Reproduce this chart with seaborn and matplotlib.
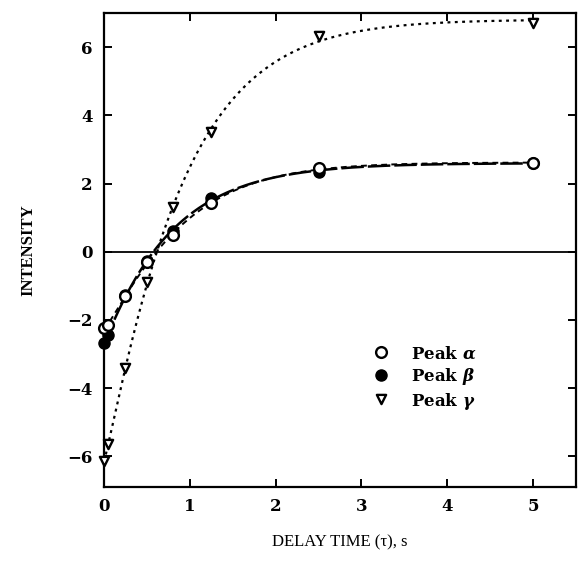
import numpy as np
import pandas as pd
import matplotlib
matplotlib.use("Agg")
import matplotlib.pyplot as plt
import seaborn as sns

# Delay times (s) and measured intensities for each peak
delay = [0.0, 0.05, 0.25, 0.5, 0.8, 1.25, 2.5, 5.0]
peak_alpha = [-2.25, -2.15, -1.30, -0.30, 0.48, 1.42, 2.45, 2.60]
peak_beta = [-2.68, -2.45, -1.28, -0.28, 0.60, 1.58, 2.35, 2.60]
peak_gamma = [-6.15, -5.65, -3.40, -0.90, 1.30, 3.50, 6.32, 6.72]

x_ticks = [0, 1, 2, 3, 4, 5]
y_ticks = [-6, -4, -2, 0, 2, 4, 6]

sns.set_theme(style="ticks")
plt.rcParams["font.family"] = ["DejaVu Serif"]
plt.rcParams["mathtext.fontset"] = "custom"
plt.rcParams["mathtext.it"] = "DejaVu Serif:italic:bold"
plt.rcParams["mathtext.rm"] = "DejaVu Serif:bold"
plt.rcParams["text.color"] = "black"
plt.rcParams["axes.labelcolor"] = "black"
plt.rcParams["xtick.color"] = "black"
plt.rcParams["ytick.color"] = "black"


def recovery_fit(t, y):
    """Least-squares fit of y = A - B*exp(-(t/T)**p); returns dense curve."""
    t = np.asarray(t)
    y = np.asarray(y)
    best = None
    for p in np.linspace(0.8, 1.8, 41):
        for T in np.linspace(0.3, 2.5, 221):
            M = np.column_stack([np.ones_like(t), -np.exp(-(t / T) ** p)])
            coef, *_ = np.linalg.lstsq(M, y, rcond=None)
            r = np.sum((M @ coef - y) ** 2)
            if best is None or r < best[0]:
                best = (r, coef, T, p)
    _, (A, B), T, p = best
    tt = np.linspace(0, 5, 300)
    return tt, A - B * np.exp(-(tt / T) ** p)


fig = plt.figure(figsize=(5.79, 5.72), dpi=100)
ax = fig.add_axes([0.1796, 0.1486, 0.8152, 0.8284])

ax.axhline(0, color="black", lw=1.3, zorder=1)

styles = {
    "alpha": dict(dashes=(3.0, 2.2), lw=1.4),
    "beta": dict(dashes=(9.0, 1.6), lw=1.8),
    "gamma": dict(dashes=(1.3, 2.0), lw=1.6),
}
for key, vals in [("alpha", peak_alpha), ("beta", peak_beta), ("gamma", peak_gamma)]:
    tt, yy = recovery_fit(delay, vals)
    fit_df = pd.DataFrame({"t": tt, "I": yy})
    sns.lineplot(data=fit_df, x="t", y="I", ax=ax, color="black",
                 dashes=False, zorder=2, lw=styles[key]["lw"])
    ax.lines[-1].set_dashes(styles[key]["dashes"])

df = pd.DataFrame({"t": delay, "a": peak_alpha, "b": peak_beta, "g": peak_gamma})
sns.scatterplot(data=df, x="t", y="a", ax=ax, marker="o", s=60,
                facecolor="white", edgecolor="black", linewidth=1.7,
                label=r"Peak $\alpha$", zorder=4, clip_on=False)
sns.scatterplot(data=df, x="t", y="b", ax=ax, marker="o", s=64,
                color="black", edgecolor="black", linewidth=1.0,
                label=r"Peak $\beta$", zorder=3, clip_on=False)
sns.scatterplot(data=df, x="t", y="g", ax=ax, marker="v", s=44,
                facecolor="white", edgecolor="black", linewidth=1.7,
                label=r"Peak $\gamma$", zorder=4, clip_on=False)

ax.set_xlim(0, 5.5)
ax.set_ylim(-6.9, 7.0)
ax.set_xticks(x_ticks)
ax.set_yticks(y_ticks)
ax.set_xticklabels([str(v) for v in x_ticks], fontsize=12, fontweight="bold")
ax.set_yticklabels([str(v).replace("-", "\u2212") for v in y_ticks],
                   fontsize=12, fontweight="bold")
ax.tick_params(direction="in", length=6, width=1.4, top=True, right=True,
               pad=8, colors="black")
for sp in ax.spines.values():
    sp.set_visible(True)
    sp.set_linewidth(1.6)
    sp.set_color("black")

ax.set_xlabel("DELAY TIME (\u03c4), s", fontsize=12, color="black",
              family="Liberation Serif", labelpad=14)
ax.set_ylabel("INTENSITY", fontsize=12, family="Liberation Serif", color="black",
              fontweight="bold", labelpad=22)

leg = ax.legend(loc="upper left", bbox_to_anchor=(0.545, 0.315), frameon=False,
                handletextpad=1.0, labelspacing=0.2, handleheight=1.3,
                borderaxespad=0, handlelength=1.6, labelcolor="black",
                prop={"weight": "bold", "size": 12, "family": "DejaVu Serif"})

fig.savefig("out.png", dpi=100)
